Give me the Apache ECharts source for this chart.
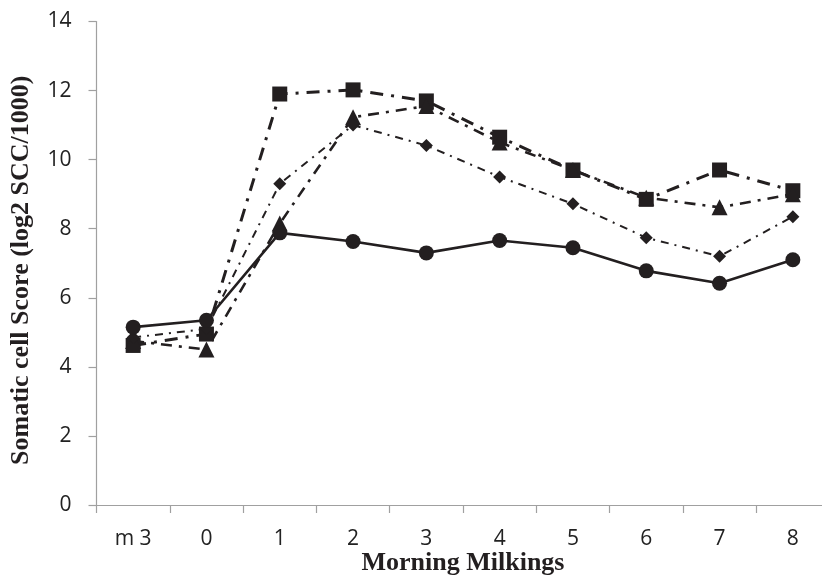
<!DOCTYPE html>
<html>
<head>
<meta charset="utf-8">
<script src="https://cdn.jsdelivr.net/npm/echarts@6/dist/echarts.min.js"></script>
<style>
  html, body { margin: 0; padding: 0; background: #fff; }
  #chart { width: 822px; height: 576px; }
</style>
</head>
<body>
<div id="chart"></div>
<script>
// categories (morning milkings)
const milkings = ['m 3', '0', '1', '2', '3', '4', '5', '6', '7', '8']

// somatic cell score per group
const circleScores = [5.15, 5.35, 7.88, 7.63, 7.30, 7.66, 7.45, 6.78, 6.42, 7.10]
const diamondScores = [4.85, 5.10, 9.30, 11.00, 10.41, 9.50, 8.72, 7.74, 7.20, 8.35]
const triangleScores = [4.75, 4.50, 8.15, 11.23, 11.55, 10.50, 9.70, 8.90, 8.62, 9.00]
const squareScores = [4.62, 4.95, 11.90, 12.02, 11.70, 10.65, 9.70, 8.85, 9.70, 9.10]

const yTicks = { min: 0, max: 14, interval: 2 }

const ink = '#231f20'
const axisGray = '#a0a0a0'

const chart = echarts.init(document.getElementById('chart'))

const makeSeries = (data, symbol, size, width, dash) => ({
    type: 'line',
    data: data,
    symbol: symbol,
    symbolSize: size,
    showSymbol: true,
    lineStyle: { color: ink, width: width, type: dash, cap: 'butt' },
    itemStyle: { color: ink, borderWidth: 0 },
    animation: false
})

chart.setOption({
    animation: false,
    // the x axis runs a little past the right edge in the original
    grid: { left: 96.5, top: 21.5, width: 733, height: 483.5, outerBoundsMode: 'none', containLabel: false },
    xAxis: {
        type: 'category',
        data: milkings,
        boundaryGap: true,
        name: 'Morning Milkings',
        nameLocation: 'middle',
        nameGap: 45,
        nameMoveOverlap: false,
        nameTextStyle: {
            fontFamily: 'Liberation Serif',
            fontWeight: 'bold',
            fontSize: 26,
            color: ink
        },
        axisLine: { show: true, lineStyle: { color: axisGray, width: 1.2 } },
        axisTick: { show: true, length: 8, alignWithLabel: false, lineStyle: { color: axisGray, width: 1.2 } },
        axisLabel: { margin: 24, fontFamily: 'Open Sans', fontSize: 21, color: '#222' },
        splitLine: { show: false }
    },
    yAxis: {
        type: 'value',
        min: yTicks.min,
        max: yTicks.max,
        interval: yTicks.interval,
        name: 'Somatic cell Score (log2 SCC/1000)',
        nameLocation: 'middle',
        nameGap: 62,
        nameRotate: 90,
        nameMoveOverlap: false,
        nameTextStyle: {
            fontFamily: 'Liberation Serif',
            fontWeight: 'bold',
            fontSize: 26,
            color: ink,
            padding: [0, 14, 0, 0]
        },
        axisLine: { show: true, lineStyle: { color: axisGray, width: 1.2 } },
        axisTick: { show: true, length: 8, lineStyle: { color: axisGray, width: 1.2 } },
        axisLabel: { margin: 25, fontFamily: 'Open Sans', fontSize: 21, color: '#222' },
        splitLine: { show: false }
    },
    series: [
        makeSeries(squareScores, 'rect', 15, 3, [13, 8, 3, 8]),
        makeSeries(triangleScores, 'triangle', 16, 2.6, [11, 7, 3, 7]),
        makeSeries(diamondScores, 'diamond', 13, 2, [8, 6, 2, 6]),
        makeSeries(circleScores, 'circle', 15, 2.6, 'solid')
    ]
})
</script>
</body>
</html>
